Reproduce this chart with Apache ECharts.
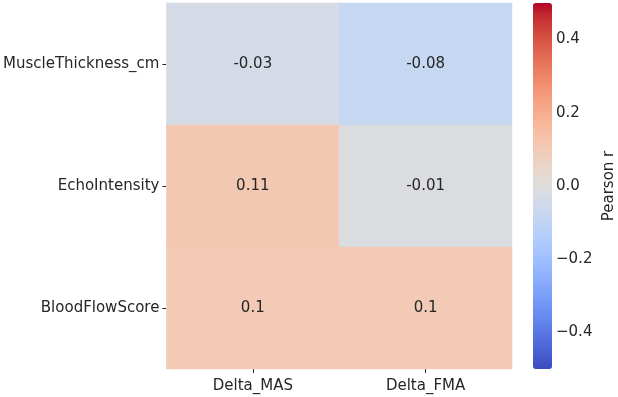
<!DOCTYPE html>
<html>
<head>
<meta charset="utf-8">
<script src="https://cdn.jsdelivr.net/npm/echarts@6/dist/echarts.min.js"></script>
<style>
  html, body { margin: 0; padding: 0; background: #fff; }
</style>
</head>
<body>
<div id="chart" style="width: 618px; height: 397px"></div>
<script>
// data
var columns = ["Delta_MAS", "Delta_FMA"];
var rows = ["MuscleThickness_cm", "EchoIntensity", "BloodFlowScore"];
var valuesMAS = [-0.03, 0.11, 0.1];
var valuesFMA = [-0.08, -0.01, 0.1];
var barTicks = [-0.4, -0.2, 0.0, 0.2, 0.4];

// coolwarm (Moreland), 33 evenly spaced stops
var coolwarm = [
  "#3b4cc0", "#445acc", "#4d68d7", "#5775e1", "#6282ea", "#6c8ef1", "#779af7", "#82a5fb",
  "#8db0fe", "#98b9ff", "#a3c2ff", "#aec9fd", "#b8d0f9", "#c2d5f4", "#ccd9ee", "#d5dbe6",
  "#dddddd", "#e5d8d1", "#ecd3c5", "#f1ccb8", "#f5c4ac", "#f7bba0", "#f7b194", "#f7a687",
  "#f49a7b", "#f18d6f", "#ec7f63", "#e57058", "#de604d", "#d55042", "#cb3e38", "#c0282f",
  "#b40426"
];

var cells = [];
rows.forEach(function (r, i) {
  cells.push([0, i, valuesMAS[i]]);
  cells.push([1, i, valuesFMA[i]]);
});

var textColor = "#262626";
var font = "DejaVu Sans";

var myChart = echarts.init(document.getElementById("chart"));
myChart.setOption({
  animation: false,
  textStyle: { fontFamily: font },
  grid: [
    { left: 166, top: 3, width: 346, height: 366 },
    { left: 533, top: 3, width: 19, height: 366 }
  ],
  xAxis: [
    {
      type: "category",
      gridIndex: 0,
      data: columns,
      axisLine: { show: false },
      axisTick: { show: true, alignWithLabel: true, length: 4, lineStyle: { color: textColor } },
      axisLabel: { color: textColor, fontSize: 15, margin: 10 },
      splitLine: { show: false }
    },
    {
      type: "value",
      gridIndex: 1,
      show: false
    }
  ],
  yAxis: [
    {
      type: "category",
      gridIndex: 0,
      data: rows,
      inverse: true,
      axisLine: { show: false },
      axisTick: { show: true, alignWithLabel: true, length: 4, lineStyle: { color: textColor } },
      axisLabel: { color: textColor, fontSize: 15, margin: 7 },
      splitLine: { show: false }
    },
    {
      type: "value",
      gridIndex: 1,
      position: "right",
      min: -0.5,
      max: 0.5,
      axisLine: { show: false },
      axisTick: { show: true, length: 5, customValues: barTicks, lineStyle: { color: textColor } },
      axisLabel: {
        color: textColor,
        fontSize: 15,
        margin: 10,
        customValues: barTicks,
        formatter: function (v) { return v.toFixed(1).replace("-", "\u2212"); }
      },
      splitLine: { show: false },
      name: "Pearson r",
      nameLocation: "middle",
      nameRotate: 90,
      nameGap: 56,
      nameTextStyle: { color: textColor, fontSize: 15 }
    }
  ],
  visualMap: {
    type: "continuous",
    min: -0.5,
    max: 0.5,
    seriesIndex: 0,
    calculable: false,
    show: true,
    orient: "vertical",
    left: 533,
    top: 3,
    padding: 0,
    itemWidth: 19,
    itemHeight: 366,
    text: null,
    showLabel: false,
    inRange: { color: coolwarm }
  },
  series: [
    {
      type: "heatmap",
      xAxisIndex: 0,
      yAxisIndex: 0,
      data: cells,
      label: {
        show: true,
        color: textColor,
        fontSize: 15,
        formatter: function (p) { return String(p.value[2]); }
      },
      itemStyle: { borderWidth: 0 },
      emphasis: { disabled: true }
    }
  ]
});
</script>
</body>
</html>
